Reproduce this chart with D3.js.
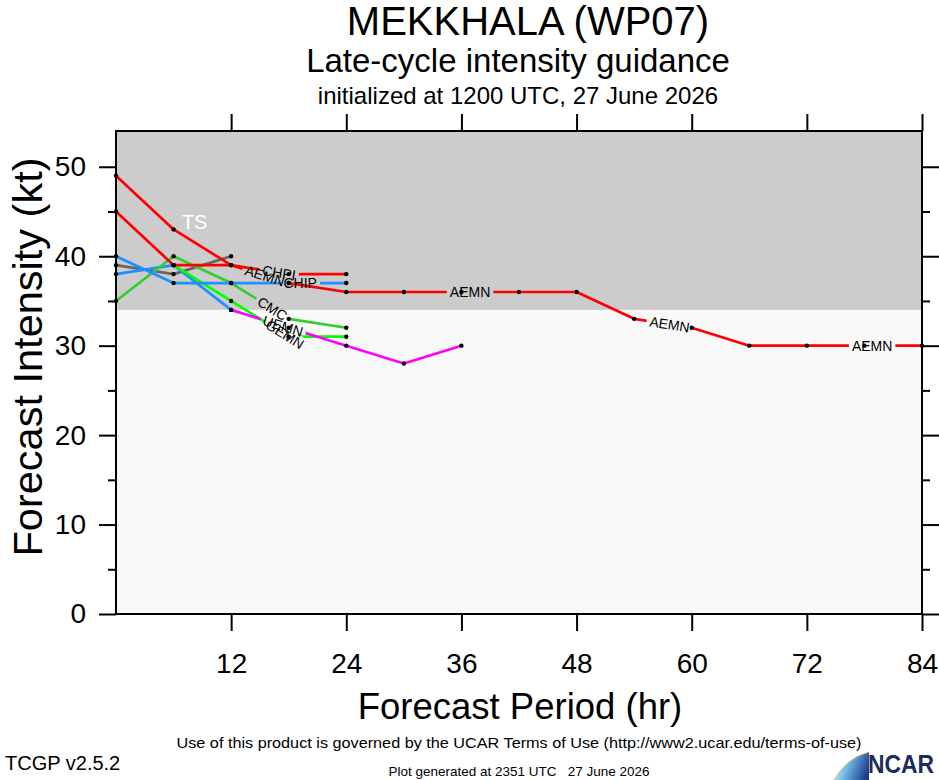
<!DOCTYPE html>
<html>
<head>
<meta charset="utf-8">
<script src="https://cdn.jsdelivr.net/npm/d3@7"></script>
<style>
  body { margin: 0; background: #fff; }
  svg { display: block; font-family: "Liberation Sans", Arial, Helvetica, sans-serif; }
</style>
</head>
<body>
<svg id="chart" width="939" height="780"></svg>
<script>
// forecast hours shared by every model
const hours = [0, 6, 12, 18, 24, 30, 36, 42, 48, 54, 60, 66, 72, 78, 84];

// intensity per model (kt), null = no forecast at that hour
const chpi = [49, 43, 39, 38, 38];
const aemn = [45, 39, 39, 37, 36, 36, 36, 36, 36, 33, 32, 30, 30, 30, 30];
const chip = [40, 37, 37, 37, 37];
const cmc  = [35, 40, 37, 33, 32];
const gemn = [null, 39, 35, 31, 31];
const uemn = [null, null, 34, 32, 30, 28, 30];
const grayModel = [39, 38, 40];
const blueModel = [38, 39, 34];

const xTicks = [12, 24, 36, 48, 60, 72, 84];
const yTicks = [0, 10, 20, 30, 40, 50];
const yMinor = [5, 15, 25, 35, 45];
const tsThreshold = 34;

// draw order, colours and where the in-line labels sit (hours)
const series = [
  {name: null,   values: grayModel, color: '#666666', labelAt: []},
  {name: null,   values: blueModel, color: '#1e90ff', labelAt: []},
  {name: 'CMC',  values: cmc,  color: '#33cc33', labelAt: [16.3]},
  {name: 'GEMN', values: gemn, color: '#00ff00', labelAt: [17.6]},
  {name: 'UEMN', values: uemn, color: '#ff00ff', labelAt: [17.4]},
  {name: 'CHIP', values: chip, color: '#1e90ff', labelAt: [19.2]},
  {name: 'AEMN', values: aemn, color: '#ff0000', labelAt: [15.5, 36.9, 57.7, 78.8]},
  {name: 'CHPI', values: chpi, color: '#ff0000', labelAt: [17]}
];

const margin = {top: 131, right: 17, bottom: 166, left: 116};
const W = 939, H = 780;
const width = W - margin.left - margin.right;
const height = H - margin.top - margin.bottom;

const svg = d3.select('#chart');
const defs = svg.append('defs');

const x = d3.scaleLinear().domain([0, 84]).range([0, width]);
const y = d3.scaleLinear().domain([0, 54]).range([height, 0]);

// titles
svg.append('text').attr('x', 528).attr('y', 35).attr('text-anchor', 'middle')
  .attr('font-size', 40).text('MEKKHALA (WP07)');
svg.append('text').attr('x', 518).attr('y', 72).attr('text-anchor', 'middle')
  .attr('font-size', 33).text('Late-cycle intensity guidance');
svg.append('text').attr('x', 518).attr('y', 104).attr('text-anchor', 'middle')
  .attr('font-size', 24).text('initialized at 1200 UTC, 27 June 2026');

const chart = svg.append('g')
  .attr('transform', `translate(${margin.left},${margin.top})`);

// background: light below TS threshold, grey above
chart.append('rect').attr('width', width).attr('height', height).attr('fill', '#f9f9f9');
chart.append('rect').attr('width', width).attr('height', y(tsThreshold)).attr('fill', '#cccccc');

chart.append('text')
  .attr('x', x(8.2)).attr('y', y(43.8))
  .attr('text-anchor', 'middle').attr('dy', '0.35em')
  .attr('font-size', 20).attr('fill', '#fff')
  .text('TS');

// build point lists
series.forEach((s, i) => {
  s.points = s.values.map((v, j) => ({h: hours[j], v: v})).filter(p => p.v != null);
  s.id = 'm' + i;
});

const lineGen = d3.line().x(d => x(d.h)).y(d => y(d.v));

const linesG = chart.append('g');
const dotsG = chart.append('g');
const labelsG = chart.append('g');

series.forEach(s => {
  linesG.append('path')
    .datum(s.points)
    .attr('fill', 'none')
    .attr('stroke', s.color)
    .attr('stroke-width', 2.7)
    .attr('stroke-linejoin', 'round')
    .attr('mask', `url(#${s.id})`)
    .attr('d', lineGen);
});

// labels along each line, the line is broken where a label sits
series.forEach(s => {
  const mask = defs.append('mask').attr('id', s.id)
    .attr('maskUnits', 'userSpaceOnUse')
    .attr('x', -margin.left).attr('y', -margin.top).attr('width', W).attr('height', H);
  mask.append('rect')
    .attr('x', -margin.left).attr('y', -margin.top).attr('width', W).attr('height', H)
    .attr('fill', '#fff');
  if (!s.name) return;

  s.labelAt.forEach(h => {
    const pts = s.points;
    let k = pts.findIndex((p, j) => j < pts.length - 1 && p.h <= h && pts[j + 1].h >= h);
    if (k < 0) return;
    const a = pts[k], b = pts[k + 1];
    const t = (h - a.h) / (b.h - a.h);
    const px = x(a.h) + t * (x(b.h) - x(a.h));
    const py = y(a.v) + t * (y(b.v) - y(a.v));
    const ang = Math.atan2(y(b.v) - y(a.v), x(b.h) - x(a.h)) * 180 / Math.PI;

    const txt = labelsG.append('text')
      .attr('transform', `translate(${px},${py}) rotate(${ang})`)
      .attr('text-anchor', 'middle').attr('dy', '0.36em')
      .attr('font-size', 14).attr('fill', '#000')
      .text(s.name);
    const w = txt.node().getComputedTextLength();

    mask.append('rect')
      .attr('transform', `translate(${px},${py}) rotate(${ang})`)
      .attr('x', -w / 2 - 3).attr('y', -7).attr('width', w + 6).attr('height', 14)
      .attr('fill', '#000');
  });
});

series.forEach(s => {
  dotsG.selectAll(null)
    .data(s.points)
    .join('circle')
    .attr('cx', d => x(d.h))
    .attr('cy', d => y(d.v))
    .attr('r', 2.2)
    .attr('fill', '#000');
});

// axes
const xAxisB = d3.axisBottom(x).tickValues(xTicks).tickSize(17).tickPadding(22).tickSizeOuter(0);
const xAxisT = d3.axisTop(x).tickValues(xTicks).tickSize(17).tickFormat('').tickSizeOuter(0);
const yAxisL = d3.axisLeft(y).tickValues(yTicks).tickSize(17).tickPadding(13).tickSizeOuter(0);
const yAxisR = d3.axisRight(y).tickValues(yTicks).tickSize(17).tickFormat('').tickSizeOuter(0);
const yMinorL = d3.axisLeft(y).tickValues(yMinor).tickSize(8).tickFormat('').tickSizeOuter(0);
const yMinorR = d3.axisRight(y).tickValues(yMinor).tickSize(8).tickFormat('').tickSizeOuter(0);

const axisGroups = [
  chart.append('g').attr('transform', `translate(0,${height})`).call(xAxisB),
  chart.append('g').call(xAxisT),
  chart.append('g').call(yAxisL),
  chart.append('g').call(yMinorL),
  chart.append('g').attr('transform', `translate(${width},0)`).call(yAxisR),
  chart.append('g').attr('transform', `translate(${width},0)`).call(yMinorR)
];
axisGroups.forEach(g => {
  g.select('.domain').remove();
  g.selectAll('.tick line').attr('stroke', '#000').attr('stroke-width', 2);
  g.selectAll('.tick text')
    .attr('font-size', 28).attr('fill', '#000')
    .attr('font-family', '"Liberation Sans", Arial, Helvetica, sans-serif');
});

chart.append('rect')
  .attr('width', width).attr('height', height)
  .attr('fill', 'none').attr('stroke', '#000').attr('stroke-width', 2);

// axis titles
svg.append('text')
  .attr('transform', `translate(42,357) rotate(-90)`)
  .attr('text-anchor', 'middle').attr('font-size', 41.5)
  .text('Forecast Intensity (kt)');
svg.append('text')
  .attr('x', 520).attr('y', 719).attr('text-anchor', 'middle')
  .attr('font-size', 36.5).text('Forecast Period (hr)');

// footer
svg.append('text').attr('x', 519).attr('y', 748).attr('text-anchor', 'middle')
  .attr('font-size', 15).attr('textLength', 685).attr('lengthAdjust', 'spacingAndGlyphs')
  .text('Use of this product is governed by the UCAR Terms of Use (http://www2.ucar.edu/terms-of-use)');
svg.append('text').attr('x', 5).attr('y', 770).attr('font-size', 20).text('TCGP v2.5.2');
svg.append('text').attr('x', 519).attr('y', 776).attr('text-anchor', 'middle')
  .attr('font-size', 13.5).style('white-space', 'pre')
  .text('Plot generated at 2351 UTC   27 June 2026');

// NCAR logo
const grad = defs.append('linearGradient').attr('id', 'ncarGrad')
  .attr('x1', '0%').attr('y1', '30%').attr('x2', '100%').attr('y2', '60%');
grad.append('stop').attr('offset', '0%').attr('stop-color', '#e8f4fb');
grad.append('stop').attr('offset', '40%').attr('stop-color', '#6fbde8');
grad.append('stop').attr('offset', '100%').attr('stop-color', '#1b3d8c');
const logo = svg.append('g');
logo.append('path')
  .attr('d', 'M834,780 Q846,758 869,752 L869,780 Z')
  .attr('fill', 'url(#ncarGrad)');
logo.append('path')
  .attr('d', 'M834,780 Q846,758 869,752')
  .attr('fill', 'none').attr('stroke', '#f2b27a').attr('stroke-width', 1);
logo.append('text').attr('x', 868).attr('y', 773)
  .attr('font-size', 25).attr('font-weight', 'bold').attr('fill', '#1c2c5e')
  .attr('textLength', 66).attr('lengthAdjust', 'spacingAndGlyphs')
  .text('NCAR');
</script>
</body>
</html>
